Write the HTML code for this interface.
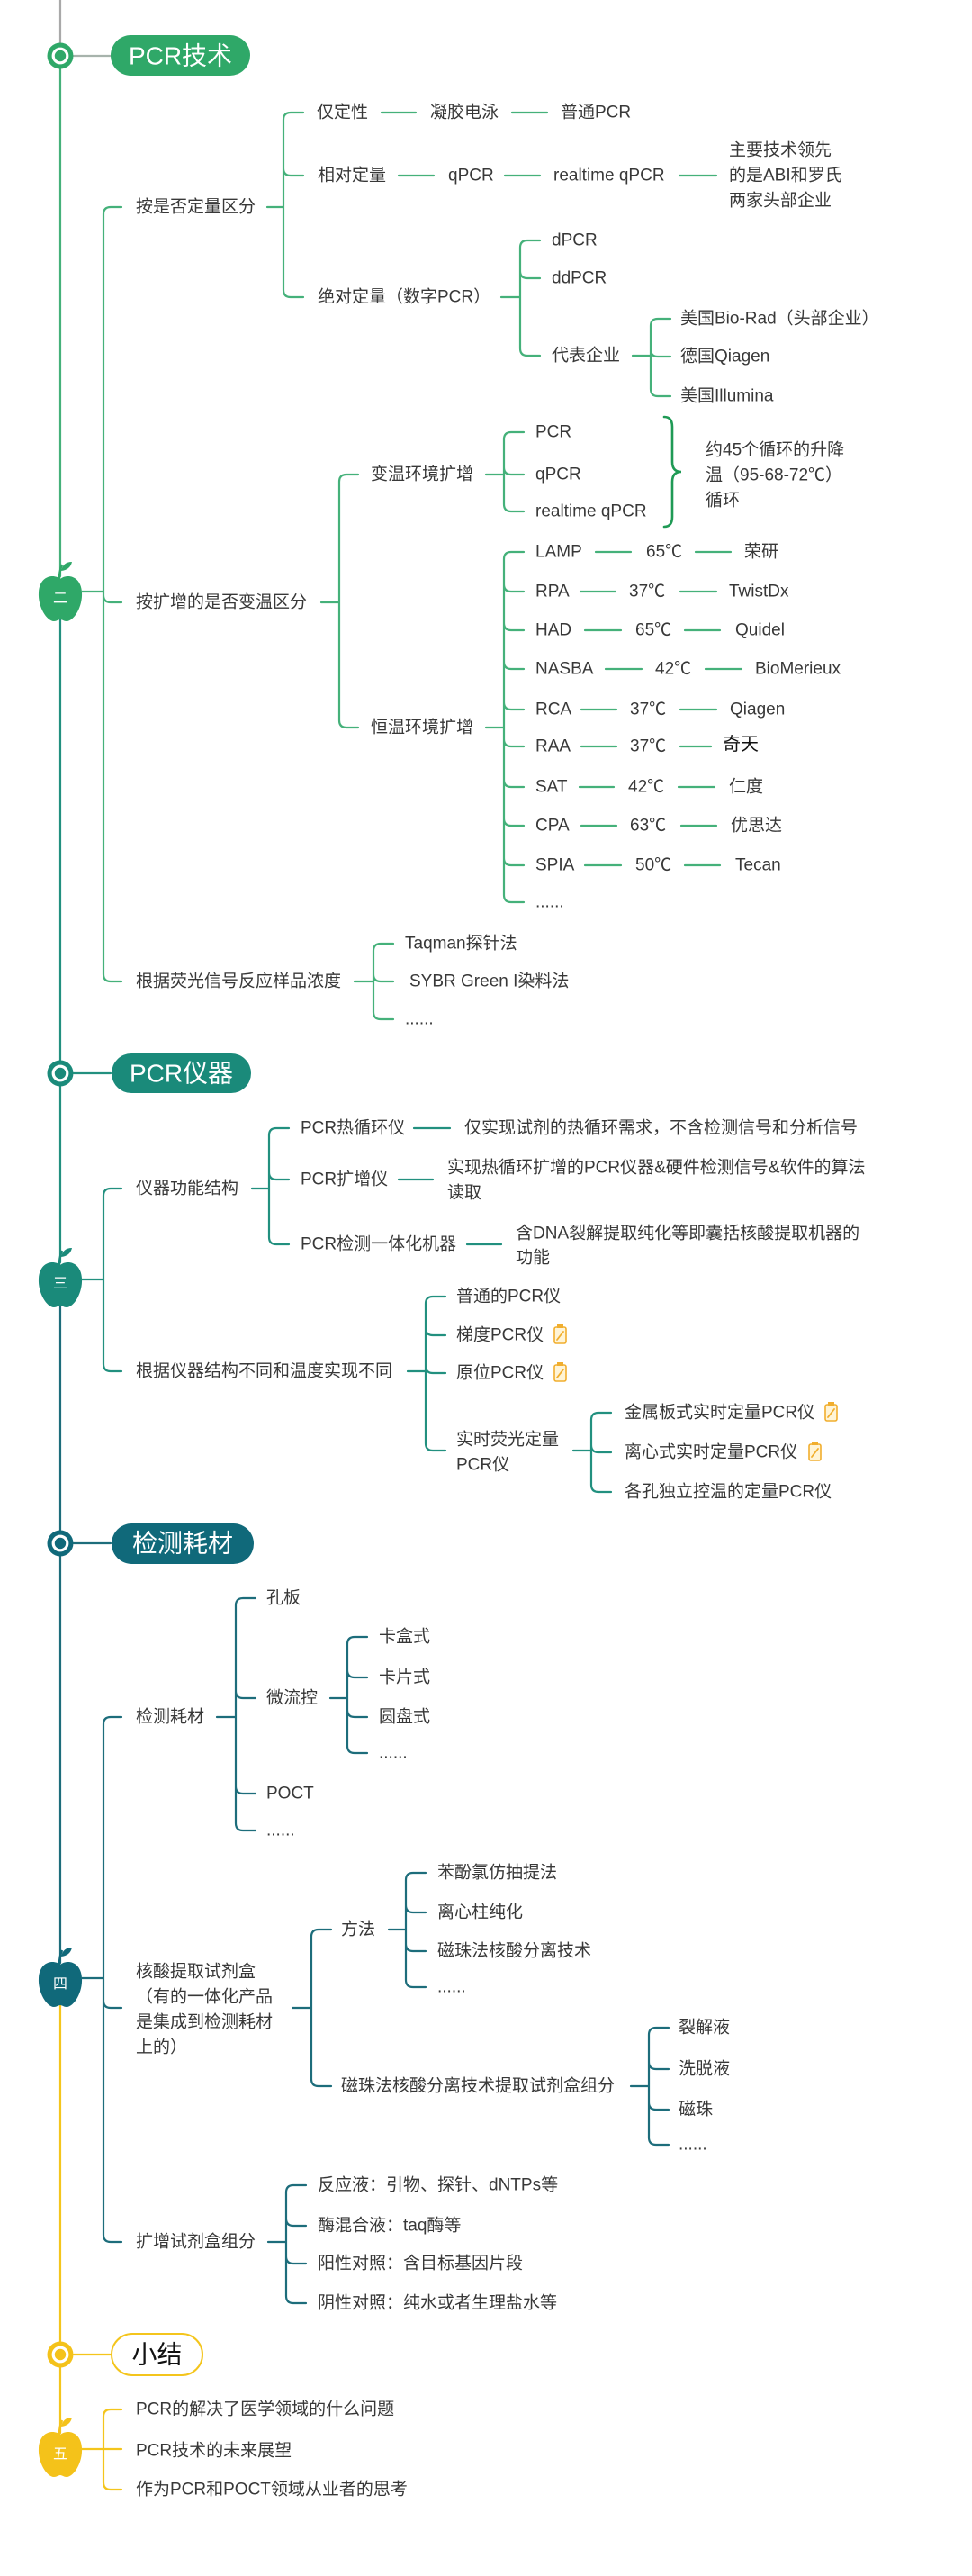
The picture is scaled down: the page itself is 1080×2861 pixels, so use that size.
<!DOCTYPE html>
<html><head><meta charset="utf-8">
<style>
html,body{margin:0;padding:0;background:#fff;}
svg{display:block;}
.t{font-family:"Liberation Sans","Noto Sans CJK SC",sans-serif;font-size:19px;fill:#383838;dominant-baseline:central;}
.p{font-family:"Liberation Sans","Noto Sans CJK SC",sans-serif;font-size:28px;fill:#fff;dominant-baseline:central;text-anchor:middle;}
.a{font-family:"Liberation Sans","Noto Sans CJK SC",sans-serif;font-size:16px;fill:#fff;dominant-baseline:central;text-anchor:middle;}
.ln{fill:none;stroke-width:2.2;stroke-linecap:round;}
.g2{stroke:#45b17a;}
.g3{stroke:#22907f;}
.g4{stroke:#1d6d7b;}
.g5{stroke:#f4c51c;}
</style></head>
<body>
<svg width="1080" height="2861" viewBox="0 0 1080 2861" xmlns="http://www.w3.org/2000/svg">
<!-- trunk -->
<path class="ln" stroke="#a9a9a9" stroke-width="2.5" d="M67,0V48"/>
<path class="ln g2" stroke-width="2.5" d="M67,76V640"/>
<path class="ln g3" stroke-width="2.5" d="M67,688V1178 M67,1206V1402"/>
<path class="ln g4" stroke-width="2.5" d="M67,1450V1700 M67,1728V2180"/>
<path class="ln g5" stroke-width="2.5" d="M67,2226V2601 M67,2629V2702"/>

<!-- circle-to-pill connectors -->
<path class="ln" stroke="#a7b3ac" d="M82,62H123"/>
<path class="ln g3" d="M82,1192H123"/>
<path class="ln g4" d="M82,1714H123"/>
<path class="ln g5" d="M82,2615H123"/>

<!-- section circles -->
<circle cx="67" cy="62" r="14.5" fill="#2fa868"/><circle cx="67" cy="62" r="7.8" fill="none" stroke="#fff" stroke-width="3.2"/>
<circle cx="67" cy="1192" r="14.5" fill="#1a8a7a"/><circle cx="67" cy="1192" r="7.8" fill="none" stroke="#fff" stroke-width="3.2"/>
<circle cx="67" cy="1714" r="14.5" fill="#10697a"/><circle cx="67" cy="1714" r="7.8" fill="none" stroke="#fff" stroke-width="3.2"/>
<circle cx="67" cy="2615" r="14.5" fill="#f4c21a"/><circle cx="67" cy="2615" r="7.8" fill="none" stroke="#fff" stroke-width="3.2"/>

<!-- pills -->
<rect x="123" y="39" width="155" height="45" rx="22.5" fill="#2fa868"/>
<text class="p" x="200.5" y="62">PCR技术</text>
<rect x="124" y="1170" width="155" height="44" rx="22" fill="#1a8a7a"/>
<text class="p" x="201.5" y="1192">PCR仪器</text>
<rect x="124" y="1692" width="158" height="45" rx="22.5" fill="#10697a"/>
<text class="p" x="203" y="1714">检测耗材</text>
<rect x="124" y="2592" width="101" height="46" rx="23" fill="#fff" stroke="#f4c51c" stroke-width="2"/>
<text class="p" x="174.5" y="2615" style="fill:#111">小结</text>

<!-- apples -->
<g fill="#2fa868">
<path d="M67,643 C60,637 44,639 43,658 C42,674 52,690 60,690 C63,690 65,688 67,688 C69,688 71,690 74,690 C82,690 92,674 91,658 C90,639 74,637 67,643 Z"/>
<path d="M66,643 Q66,634 69,627" fill="none" stroke="#2fa868" stroke-width="2.5"/>
<path d="M68,634 Q70,624 80,624 Q78,633 68,634 Z"/>
</g>
<text class="a" x="67" y="665">二</text>
<g fill="#1a8a7a">
<path d="M67,1405 C60,1399 44,1401 43,1420 C42,1436 52,1452 60,1452 C63,1452 65,1450 67,1450 C69,1450 71,1452 74,1452 C82,1452 92,1436 91,1420 C90,1401 74,1399 67,1405 Z"/>
<path d="M66,1405 Q66,1396 69,1389" fill="none" stroke="#1a8a7a" stroke-width="2.5"/>
<path d="M68,1396 Q70,1386 80,1386 Q78,1395 68,1396 Z"/>
</g>
<text class="a" x="67" y="1426">三</text>
<g fill="#10697a">
<path d="M67,2182 C60,2176 44,2178 43,2197 C42,2213 52,2229 60,2229 C63,2229 65,2227 67,2227 C69,2227 71,2229 74,2229 C82,2229 92,2213 91,2197 C90,2178 74,2176 67,2182 Z"/>
<path d="M66,2182 Q66,2173 69,2166" fill="none" stroke="#10697a" stroke-width="2.5"/>
<path d="M68,2173 Q70,2163 80,2163 Q78,2172 68,2173 Z"/>
</g>
<text class="a" x="67" y="2204">四</text>
<g fill="#f4c21a">
<path d="M67,2704 C60,2698 44,2700 43,2719 C42,2735 52,2751 60,2751 C63,2751 65,2749 67,2749 C69,2749 71,2751 74,2751 C82,2751 92,2735 91,2719 C90,2700 74,2698 67,2704 Z"/>
<path d="M66,2704 Q66,2695 69,2688" fill="none" stroke="#f4c21a" stroke-width="2.5"/>
<path d="M68,2695 Q70,2685 80,2685 Q78,2694 68,2695 Z"/>
</g>
<text class="a" x="67" y="2726">五</text>

<!-- ========== Section 2 lines ========== -->
<path class="ln g2" d="
M115,238V1082 M115,238Q115,230 123,230H135 M115,661Q115,669 123,669H135 M115,1082Q115,1090 123,1090H135 M91,657H115
M297,230H315
M315,133V322 M315,133Q315,125 323,125H337 M315,187Q315,195 323,195H337 M315,322Q315,330 323,330H337
M424,125H462 M569,125H608 M443,195H482 M561,195H600 M755,195H796
M557,330H578
M578,275V387 M578,275Q578,267 586,267H600 M578,301Q578,309 586,309H600 M578,387Q578,395 586,395H600
M703,395H723
M723,362V432 M723,362Q723,354 731,354H745 M723,388Q723,396 731,396H745 M723,432Q723,440 731,440H745
M357,669H377
M377,535V800 M377,535Q377,527 385,527H398 M377,800Q377,808 385,808H398
M540,527H560
M560,488V560 M560,488Q560,480 568,480H582 M560,519Q560,527 568,527H582 M560,560Q560,568 568,568H582
M540,808H560
M560,621V994 M560,621Q560,613 568,613H582 M560,649Q560,657 568,657H582 M560,692Q560,700 568,700H582 M560,735Q560,743 568,743H582 M560,780Q560,788 568,788H582 M560,821Q560,829 568,829H582 M560,866Q560,874 568,874H582 M560,909Q560,917 568,917H582 M560,953Q560,961 568,961H582 M560,994Q560,1002 568,1002H582
M662,613H701 M773,613H812
M645,657H684 M756,657H796
M650,700H690 M761,700H800
M673,743H713 M784,743H824
M646,788H685 M756,788H796
M646,829H685 M756,829H790
M644,874H682 M754,874H794
M646,917H685 M757,917H796
M650,961H690 M761,961H800
M394,1090H415
M415,1056V1124 M415,1056Q415,1048 423,1048H437 M415,1082Q415,1090 423,1090H437 M415,1124Q415,1132 423,1132H437
"/>
<path d="M738,463 Q747,463 747,474 V513 Q747,524 757,524 Q747,524 747,535 V574 Q747,585 738,585" fill="none" stroke="#1f9a55" stroke-width="2.6" stroke-linecap="round"/>

<!-- Section 2 text -->
<text class="t" x="151" y="230">按是否定量区分</text>
<text class="t" x="352" y="125">仅定性</text>
<text class="t" x="478" y="125">凝胶电泳</text>
<text class="t" x="623" y="125">普通PCR</text>
<text class="t" x="353" y="195">相对定量</text>
<text class="t" x="498" y="195">qPCR</text>
<text class="t" x="615" y="195">realtime qPCR</text>
<text class="t" x="810" y="167">主要技术领先</text>
<text class="t" x="810" y="195">的是ABI和罗氏</text>
<text class="t" x="810" y="223">两家头部企业</text>
<text class="t" x="353" y="330">绝对定量（数字PCR）</text>
<text class="t" x="613" y="267">dPCR</text>
<text class="t" x="613" y="309">ddPCR</text>
<text class="t" x="613" y="395">代表企业</text>
<text class="t" x="756" y="354">美国Bio-Rad（头部企业）</text>
<text class="t" x="756" y="396">德国Qiagen</text>
<text class="t" x="756" y="440">美国Illumina</text>

<text class="t" x="151" y="669">按扩增的是否变温区分</text>
<text class="t" x="412" y="527">变温环境扩增</text>
<text class="t" x="595" y="480">PCR</text>
<text class="t" x="595" y="527">qPCR</text>
<text class="t" x="595" y="568">realtime qPCR</text>
<text class="t" x="784" y="500">约45个循环的升降</text>
<text class="t" x="784" y="528">温（95-68-72℃）</text>
<text class="t" x="784" y="556">循环</text>
<text class="t" x="412" y="808">恒温环境扩增</text>

<text class="t" x="595" y="613">LAMP</text><text class="t" x="718" y="613">65℃</text><text class="t" x="827" y="613">荣研</text>
<text class="t" x="595" y="657">RPA</text><text class="t" x="699" y="657">37℃</text><text class="t" x="810" y="657">TwistDx</text>
<text class="t" x="595" y="700">HAD</text><text class="t" x="706" y="700">65℃</text><text class="t" x="817" y="700">Quidel</text>
<text class="t" x="595" y="743">NASBA</text><text class="t" x="728" y="743">42℃</text><text class="t" x="839" y="743">BioMerieux</text>
<text class="t" x="595" y="788">RCA</text><text class="t" x="700" y="788">37℃</text><text class="t" x="811" y="788">Qiagen</text>
<text class="t" x="595" y="829">RAA</text><text class="t" x="700" y="829">37℃</text><text class="t" x="803" y="827" style="fill:#111;font-size:20px">奇天</text>
<text class="t" x="595" y="874">SAT</text><text class="t" x="698" y="874">42℃</text><text class="t" x="810" y="874">仁度</text>
<text class="t" x="595" y="917">CPA</text><text class="t" x="700" y="917">63℃</text><text class="t" x="812" y="917">优思达</text>
<text class="t" x="595" y="961">SPIA</text><text class="t" x="706" y="961">50℃</text><text class="t" x="817" y="961">Tecan</text>
<text class="t" x="595" y="1002">......</text>

<text class="t" x="151" y="1090">根据荧光信号反应样品浓度</text>
<text class="t" x="450" y="1048">Taqman探针法</text>
<text class="t" x="455" y="1090">SYBR Green I染料法</text>
<text class="t" x="450" y="1132">......</text>

<!-- ========== Section 3 ========== -->
<path class="ln g3" d="
M115,1328V1515 M115,1328Q115,1320 123,1320H135 M115,1515Q115,1523 123,1523H135 M91,1421H115
M280,1320H299
M299,1261V1374 M299,1261Q299,1253 307,1253H321 M299,1302Q299,1310 307,1310H321 M299,1374Q299,1382 307,1382H321
M460,1253H500 M443,1310H481 M519,1382H557
M453,1523H473
M473,1448V1603 M473,1448Q473,1440 481,1440H495 M473,1475Q473,1483 481,1483H495 M473,1517Q473,1525 481,1525H495 M473,1603Q473,1611 481,1611H495
M637,1611H657
M657,1577V1649 M657,1577Q657,1569 665,1569H679 M657,1605Q657,1613 665,1613H679 M657,1649Q657,1657 665,1657H679
"/>
<text class="t" x="151" y="1320">仪器功能结构</text>
<text class="t" x="334" y="1253">PCR热循环仪</text>
<text class="t" x="516" y="1253">仅实现试剂的热循环需求，不含检测信号和分析信号</text>
<text class="t" x="334" y="1310">PCR扩增仪</text>
<text class="t" x="497" y="1297">实现热循环扩增的PCR仪器&amp;硬件检测信号&amp;软件的算法</text>
<text class="t" x="497" y="1325">读取</text>
<text class="t" x="334" y="1382">PCR检测一体化机器</text>
<text class="t" x="573" y="1370">含DNA裂解提取纯化等即囊括核酸提取机器的</text>
<text class="t" x="573" y="1397">功能</text>
<text class="t" x="151" y="1523">根据仪器结构不同和温度实现不同</text>
<text class="t" x="507" y="1440">普通的PCR仪</text>
<text class="t" x="507" y="1483">梯度PCR仪</text>
<text class="t" x="507" y="1525">原位PCR仪</text>
<text class="t" x="507" y="1599">实时荧光定量</text>
<text class="t" x="507" y="1627">PCR仪</text>
<text class="t" x="694" y="1569">金属板式实时定量PCR仪</text>
<text class="t" x="694" y="1613">离心式实时定量PCR仪</text>
<text class="t" x="694" y="1657">各孔独立控温的定量PCR仪</text>

<!-- note icons -->
<g fill="#fff4d6" stroke="#f1ae2e" stroke-width="1.6">
<rect x="616" y="1474" width="13" height="18" rx="2"/>
<rect x="616" y="1516" width="13" height="18" rx="2"/>
<rect x="917" y="1560" width="13" height="18" rx="2"/>
<rect x="899" y="1604" width="13" height="18" rx="2"/>
</g>
<g stroke="#f1ae2e" stroke-width="1.8" stroke-linecap="round" fill="none">
<path d="M619,1488L626,1479 M619,1530L626,1521 M920,1574L927,1565 M902,1618L909,1609"/>
</g>
<g fill="#f1ae2e">
<rect x="619" y="1471" width="7" height="4"/>
<rect x="619" y="1513" width="7" height="4"/>
<rect x="920" y="1557" width="7" height="4"/>
<rect x="902" y="1601" width="7" height="4"/>
</g>

<!-- ========== Section 4 ========== -->
<path class="ln g4" d="
M115,1915V2482 M115,1915Q115,1907 123,1907H135 M115,2222Q115,2230 123,2230H135 M115,2482Q115,2490 123,2490H135 M91,2197H115
M241,1907H262
M262,1783V2025 M262,1783Q262,1775 270,1775H284 M262,1878Q262,1886 270,1886H284 M262,1984Q262,1992 270,1992H284 M262,2025Q262,2033 270,2033H284
M367,1886H386
M386,1826V1939 M386,1826Q386,1818 394,1818H408 M386,1855Q386,1863 394,1863H408 M386,1899Q386,1907 394,1907H408 M386,1939Q386,1947 394,1947H408
M325,2230H346
M346,2151V2309 M346,2151Q346,2143 354,2143H368 M346,2309Q346,2317 354,2317H368
M432,2143H451
M451,2088V2199 M451,2088Q451,2080 459,2080H473 M451,2116Q451,2124 459,2124H473 M451,2159Q451,2167 459,2167H473 M451,2199Q451,2207 459,2207H473
M701,2317H721
M721,2260V2374 M721,2260Q721,2252 729,2252H743 M721,2290Q721,2298 729,2298H743 M721,2335Q721,2343 729,2343H743 M721,2374Q721,2382 729,2382H743
M298,2490H318
M318,2435V2550 M318,2435Q318,2427 326,2427H340 M318,2464Q318,2472 326,2472H340 M318,2506Q318,2514 326,2514H340 M318,2550Q318,2558 326,2558H340
"/>
<text class="t" x="151" y="1907">检测耗材</text>
<text class="t" x="296" y="1775">孔板</text>
<text class="t" x="296" y="1886">微流控</text>
<text class="t" x="296" y="1992">POCT</text>
<text class="t" x="296" y="2033">......</text>
<text class="t" x="421" y="1818">卡盒式</text>
<text class="t" x="421" y="1863">卡片式</text>
<text class="t" x="421" y="1907">圆盘式</text>
<text class="t" x="421" y="1947">......</text>
<text class="t" x="151" y="2190">核酸提取试剂盒</text>
<text class="t" x="151" y="2218">（有的一体化产品</text>
<text class="t" x="151" y="2246">是集成到检测耗材</text>
<text class="t" x="151" y="2274">上的）</text>
<text class="t" x="379" y="2143">方法</text>
<text class="t" x="486" y="2080">苯酚氯仿抽提法</text>
<text class="t" x="486" y="2124">离心柱纯化</text>
<text class="t" x="486" y="2167">磁珠法核酸分离技术</text>
<text class="t" x="486" y="2207">......</text>
<text class="t" x="379" y="2317">磁珠法核酸分离技术提取试剂盒组分</text>
<text class="t" x="754" y="2252">裂解液</text>
<text class="t" x="754" y="2298">洗脱液</text>
<text class="t" x="754" y="2343">磁珠</text>
<text class="t" x="754" y="2382">......</text>
<text class="t" x="151" y="2490">扩增试剂盒组分</text>
<text class="t" x="353" y="2427">反应液：引物、探针、dNTPs等</text>
<text class="t" x="353" y="2472">酶混合液：taq酶等</text>
<text class="t" x="353" y="2514">阳性对照：含目标基因片段</text>
<text class="t" x="353" y="2558">阴性对照：纯水或者生理盐水等</text>

<!-- ========== Section 5 ========== -->
<path class="ln g5" d="M115,2684V2757 M115,2684Q115,2676 123,2676H135 M91,2720H135 M115,2757Q115,2765 123,2765H135"/>
<text class="t" x="151" y="2676">PCR的解决了医学领域的什么问题</text>
<text class="t" x="151" y="2722">PCR技术的未来展望</text>
<text class="t" x="151" y="2765">作为PCR和POCT领域从业者的思考</text>
</svg>
</body></html>
